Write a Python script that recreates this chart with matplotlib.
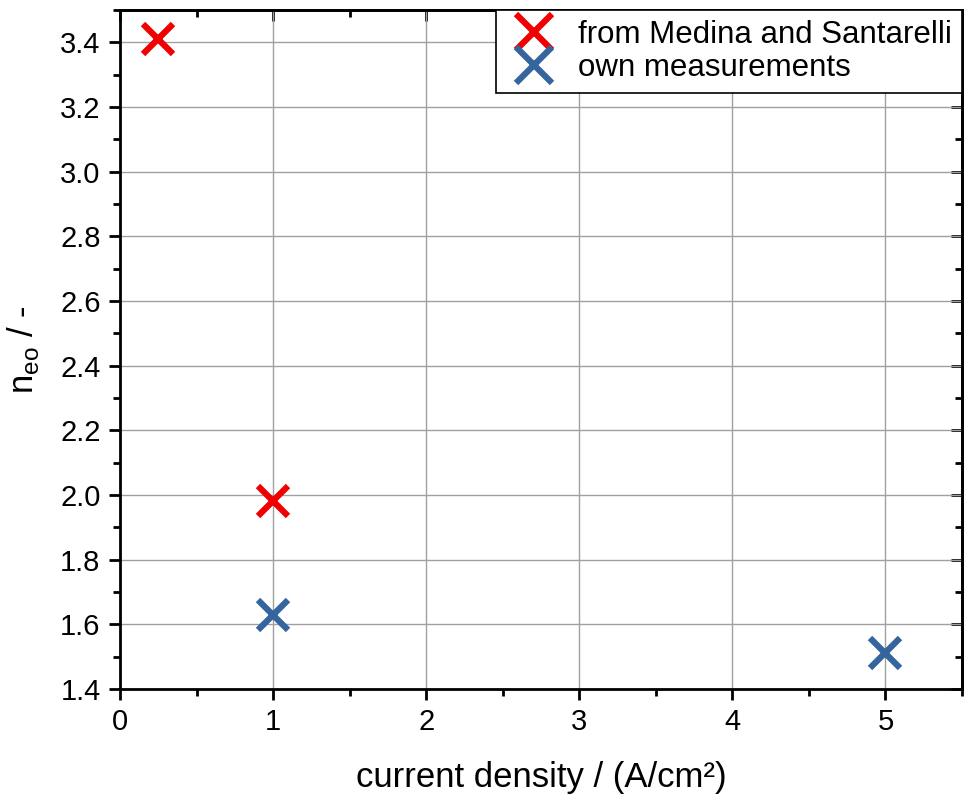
import matplotlib.pyplot as plt
from matplotlib.ticker import MultipleLocator

plt.rcParams['font.family'] = ['Liberation Sans', 'DejaVu Sans']

# current density (A/cm^2) and n_eo values
medina_j = [0.25, 1.0]
medina_neo = [3.41, 1.98]
own_j = [1.0, 5.0]
own_neo = [1.63, 1.51]

fig = plt.figure(figsize=(9.66, 7.99), dpi=100)
ax = fig.add_axes([120 / 966, 1 - 689 / 799, 842 / 966, 679 / 799])

ax.plot(medina_j, medina_neo, 'x', color='#f00000', markersize=22,
        markeredgewidth=4.5, label='from Medina and Santarelli', zorder=3)
ax.plot(own_j, own_neo, 'x', color='#35659e', markersize=22,
        markeredgewidth=4.5, label='own measurements', zorder=3)

ax.set_xlim(0, 5.5)
ax.set_ylim(1.4, 3.5)
ax.xaxis.set_major_locator(MultipleLocator(1))
ax.xaxis.set_minor_locator(MultipleLocator(0.5))
ax.yaxis.set_major_locator(MultipleLocator(0.2))
ax.yaxis.set_minor_locator(MultipleLocator(0.1))
ax.yaxis.set_major_formatter(plt.FormatStrFormatter('%.1f'))

ax.grid(True, which='major', color='#a0a0a0', linewidth=1.0)
ax.set_axisbelow(True)

for s in ax.spines.values():
    s.set_linewidth(2)

ax.tick_params(which='major', direction='out', length=8, width=2,
               labelsize=21, pad=6)
ax.tick_params(which='minor', direction='out', length=5, width=2)

# top/right axes: inward ticks, no labels
top = ax.secondary_xaxis('top')
top.set_xticks([0, 1, 2, 3, 4, 5])
top.xaxis.set_minor_locator(MultipleLocator(0.5))
top.tick_params(which='major', direction='in', length=8, width=2, labeltop=False)
top.tick_params(which='minor', direction='in', length=5, width=2)
top.spines['top'].set_linewidth(2)
right = ax.secondary_yaxis('right')
right.yaxis.set_major_locator(MultipleLocator(0.2))
right.yaxis.set_minor_locator(MultipleLocator(0.1))
right.tick_params(which='major', direction='in', length=8, width=2, labelright=False)
right.tick_params(which='minor', direction='in', length=5, width=2)
right.spines['right'].set_linewidth(2)

ax.set_xlabel('current density / (A/cm²)', fontsize=25, labelpad=18)
ax.set_ylabel('n$_{\\mathregular{eo}}$ / -', fontsize=25, labelpad=14)

leg = ax.legend(loc='upper right', fontsize=22.5, frameon=True, fancybox=False,
                edgecolor='black', framealpha=1, borderaxespad=0,
                handletextpad=0.5, labelspacing=0.08, borderpad=0.32,
                handlelength=1.8, markerscale=1.15)
leg.get_frame().set_linewidth(1.2)

fig.savefig('out.png', dpi=100)
